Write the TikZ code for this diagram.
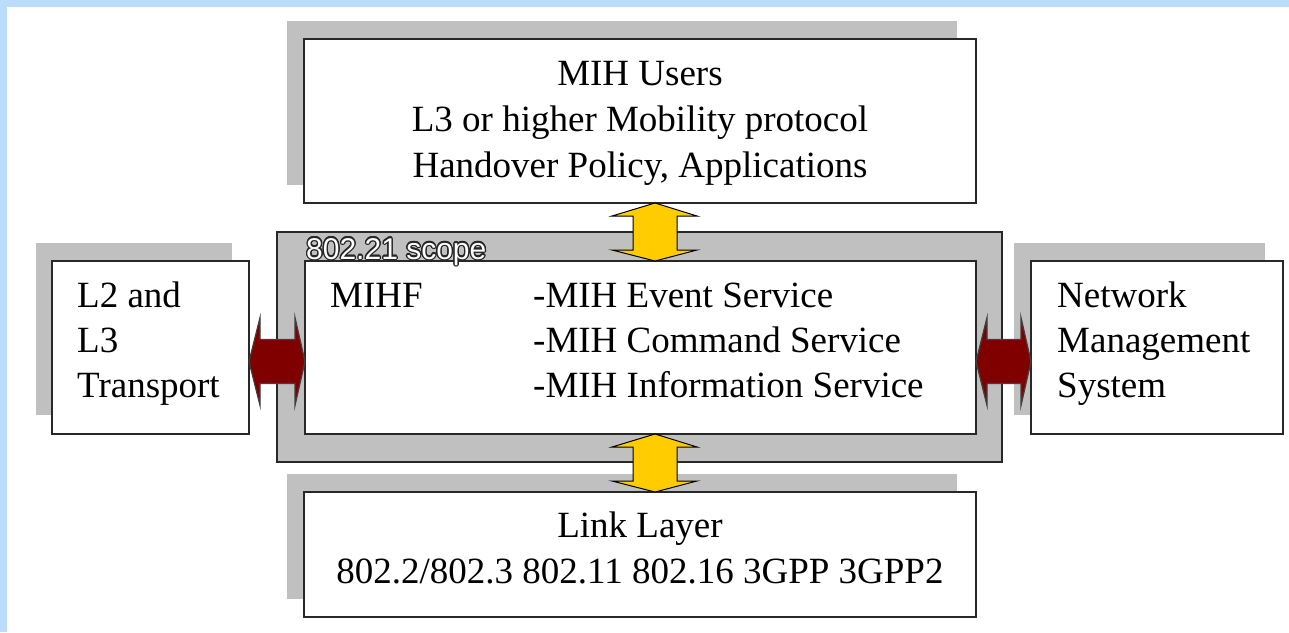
\documentclass[tikz,border=0pt]{standalone}
\usepackage{fontspec}
\setmainfont{Liberation Serif}
\setsansfont{Liberation Sans}
\usepackage[copies]{contour}
\usetikzlibrary{calc}
\definecolor{shadowgray}{RGB}{192,192,192}
\definecolor{frameblue}{RGB}{185,220,255}
\definecolor{arrowyellow}{RGB}{255,204,0}
\definecolor{arrowred}{RGB}{128,0,0}
\definecolor{edgecol}{RGB}{40,40,40}
\newcommand\vdblarrow[3]{% top tip, bottom tip, style
  \draw[#3] (#1) -- ($(#1)+(42,13)$) -- ($(#1)+(22,13)$) -- ($(#2)+(22,-11)$) -- ($(#2)+(42,-11)$)
    -- (#2) -- ($(#2)+(-43,-11)$) -- ($(#2)+(-22,-11)$) -- ($(#1)+(-22,13)$) -- ($(#1)+(-43,13)$) -- cycle;}
\newcommand\hdblarrow[3]{% left tip, right tip, style
  \draw[#3] (#1) -- ($(#1)+(11,-44)$) -- ($(#1)+(11,-22)$) -- ($(#2)+(-10,-22)$) -- ($(#2)+(-10,-44)$)
    -- (#2) -- ($(#2)+(-10,44)$) -- ($(#2)+(-10,22)$) -- ($(#1)+(11,22)$) -- ($(#1)+(11,44)$) -- cycle;}
\begin{document}
\begin{tikzpicture}[x=1pt,y=-1pt,
  box/.style={draw=edgecol, line width=2pt, fill=white, inner sep=0pt, outer sep=0pt},
  shadowbox/.style={fill=shadowgray, inner sep=0pt, outer sep=0pt},
  scopebox/.style={draw=edgecol, line width=1.6pt, fill=shadowgray, inner sep=0pt, outer sep=0pt},
  lbl/.style={inner sep=0pt, font=\fontsize{37}{46}\selectfont},
  scopelbl/.style={inner sep=0pt, font=\sffamily\fontsize{30}{30}\selectfont, anchor=base west},
  yarrow/.style={fill=arrowyellow, draw=black, line width=1pt, line join=miter},
  rarrow/.style={fill=arrowred, draw=black!75, line width=1.2pt, line join=miter},
]
\useasboundingbox (0,0) rectangle (1289,632);
\fill[white] (0,0) rectangle (1289,632);
\fill[frameblue] (0,0) rectangle (1289,7);
\fill[frameblue] (0,0) rectangle (7,632);

% shadows
\node[shadowbox, minimum width=670, minimum height=164] (usersshadow) at (622,103) {};
\node[shadowbox, minimum width=670, minimum height=125] (linkshadow) at (622,536.5) {};
\node[shadowbox, minimum width=196, minimum height=172] (l2shadow) at (134,329) {};
\node[shadowbox, minimum width=251, minimum height=172] (nmsshadow) at (1139.5,329) {};

% scope
\node[scopebox, minimum width=725, minimum height=230] (scope) at (639.5,347) {};

% boxes
\node[box, minimum width=672, minimum height=164] (users) at (640,121) {};
\node[box, minimum width=671, minimum height=173] (mihf) at (640.5,347.5) {};
\node[box, minimum width=672, minimum height=125] (link) at (640,554.5) {};
\node[box, minimum width=197, minimum height=173] (l2) at (150.5,347.5) {};
\node[box, minimum width=252, minimum height=173] (nms) at (1157,347.5) {};

% scope label
\node[scopelbl] (scopetext) at (306,259) {\color{white}\contourlength{1.3pt}\contour{black!85}{802.21 scope}};

% texts
\node[lbl, anchor=base] (u1) at (640,85) {MIH Users};
\node[lbl, anchor=base] (u2) at (640,131) {L3 or higher Mobility protocol};
\node[lbl, anchor=base] (u3) at (640,177) {Handover Policy, Applications};

\node[lbl, anchor=base west] (m0) at (330,307) {MIHF};
\node[lbl, anchor=base west] (m1) at (533,307) {-MIH Event Service};
\node[lbl, anchor=base west] (m2) at (533,352) {-MIH Command Service};
\node[lbl, anchor=base west] (m3) at (533,397) {-MIH Information Service};

\node[lbl, anchor=base west] (t1) at (77,307) {L2 and};
\node[lbl, anchor=base west] (t2) at (77,352) {L3};
\node[lbl, anchor=base west] (t3) at (77,397) {Transport};

\node[lbl, anchor=base west] (n1) at (1057,307) {Network};
\node[lbl, anchor=base west] (n2) at (1057,352) {Management};
\node[lbl, anchor=base west] (n3) at (1057,397) {System};

\node[lbl, anchor=base] (k1) at (640,537) {Link Layer};
\node[lbl, anchor=base] (k2) at (640,583) {802.2/802.3 802.11 802.16 3GPP 3GPP2};

% arrows
\coordinate (ya1) at ($(users.south)+(15,0)$);
\coordinate (yb1) at (ya1 |- mihf.north);
\vdblarrow{ya1}{yb1}{yarrow}
\coordinate (ya2) at ($(mihf.south)+(14.5,0)$);
\coordinate (yb2) at (ya2 |- link.north);
\vdblarrow{ya2}{yb2}{yarrow}

\coordinate (ra1) at ($(l2.east)+(0,14)$);
\coordinate (rb1) at (ra1 -| mihf.west);
\hdblarrow{ra1}{rb1}{rarrow}
\coordinate (ra2) at ($(mihf.east)+(0,14)$);
\coordinate (rb2) at (ra2 -| nms.west);
\hdblarrow{ra2}{rb2}{rarrow}
\end{tikzpicture}
\end{document}
